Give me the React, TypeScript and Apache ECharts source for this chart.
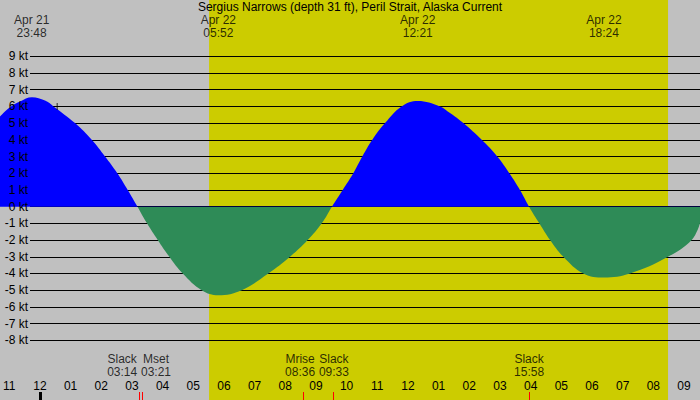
import { useEffect, useRef } from "react"
import * as echarts from "echarts"

// current speed (kt), x in hours since Apr 21 00:00
const flowHours = [
  22.772, 23.097, 23.422, 23.812, 24.235, 24.511, 25.21, 25.753, 26.185, 26.585, 26.923, 27.24,
  27.55, 27.898, 28.275, 28.71, 29.328, 29.867, 30.628, 31.492, 32.197, 32.773, 33.228, 33.56,
  33.91, 34.254, 34.547, 34.872, 35.285, 35.821, 36.35, 37.072, 37.397, 37.829, 38.427, 38.934,
  39.325, 39.672, 39.967, 40.3, 40.647, 41.08, 41.73, 42.4, 43.247, 44.482, 45.252, 45.522,
]
const flowKnots = [
  5.4, 5.95, 6.3, 6.55, 6.35, 6.0, 5, 4, 3, 2, 1, 0,
  -1, -2, -3, -4, -5, -5.3, -5, -4, -3, -2, -1, 0,
  1, 2, 3, 4, 5, 6, 6.33, 6, 5.6, 5, 4, 3,
  2, 1, 0, -1, -2, -3, -4, -4.24, -4, -3, -2, -1.0,
]

const knotMin = -8
const knotMax = 9
const hourTicks = [23, 24, 25, 26, 27, 28, 29, 30, 31, 32, 33, 34, 35, 36, 37, 38, 39, 40, 41, 42, 43, 44, 45]
const viewStart = 22.772
const viewEnd = 45.522

const sunrise = "05:34"
const sunset = "20:29"

const extremeDays = ["Apr 21", "Apr 22", "Apr 22", "Apr 22"]
const extremeClocks = ["23:48", "05:52", "12:21", "18:24"]

const eventNames = ["Slack", "Mset", "Mrise", "Slack", "Slack"]
const eventClocks = ["03:14", "03:21", "08:36", "09:33", "15:58"]

const nowMarker = [24.63, 6]

const font = "Liberation Sans"

function toHours(day: string, clock: string) {
  const [h, m] = clock.split(":").map(Number)
  return (day === "Apr 21" ? 0 : 24) + h + m / 60
}

// push apart labels that would overlap
function spreadLabels(times: number[], gap: number) {
  const out = [...times]
  for (let i = 0; i < out.length - 1; i++) {
    const d = out[i + 1] - out[i]
    if (d < gap) {
      const push = (gap - d) / 2
      out[i] -= push
      out[i + 1] += push
    }
  }
  return out
}

function hourLabel(v: number) {
  const h = Math.round(v) % 12
  return String(h === 0 ? 12 : h).padStart(2, "0")
}

const textLabel = {
  show: true,
  position: "inside",
  formatter: "{b}",
  color: "#000",
  fontSize: 12,
  fontFamily: font,
}

function labelSeries(axis: number, y: number, times: number[], texts: string[]) {
  return {
    type: "scatter",
    xAxisIndex: axis,
    yAxisIndex: axis,
    silent: true,
    z: 3,
    symbolSize: 1,
    itemStyle: { color: "transparent" },
    data: times.map((t, i) => ({ value: [t, y], name: texts[i] })),
    label: textLabel,
  }
}

export default function App() {
  const chartRef = useRef<HTMLDivElement>(null)

  useEffect(() => {
    document.body.style.margin = "0"
    if (!chartRef.current) return
    const chart = echarts.init(chartRef.current, null, { renderer: "svg" })

    const eventTimes = eventClocks.map((c) => toHours("Apr 22", c))
    const labelTimes = spreadLabels(eventTimes, 1.1)
    const extremeTimes = extremeClocks.map((c, i) => toHours(extremeDays[i], c))

    const hiddenX = (gridIndex: number) => ({
      type: "value",
      gridIndex,
      min: viewStart,
      max: viewEnd,
      show: false,
    })
    const hiddenY = (gridIndex: number) => ({
      type: "value",
      gridIndex,
      min: 0,
      max: 1,
      show: false,
    })

    const option = {
      animation: false,
      backgroundColor: "#c0c0c0",
      textStyle: { fontFamily: font },
      title: {
        text: "Sergius Narrows (depth 31 ft), Peril Strait, Alaska Current",
        left: "center",
        top: 1,
        padding: 0,
        textStyle: { fontSize: 12, fontWeight: "normal", color: "#000", fontFamily: font },
      },
      grid: [
        { left: 0, right: 0, top: 56.3, bottom: 59.7 }, // flow
        { left: 30, right: 0, top: 56.3, bottom: 59.7 }, // knot lines
        { left: 0, right: 0, top: 0, bottom: 0 }, // day / night
        { left: 0, right: 0, top: 392, height: 8 }, // hour ticks
        { left: 0, right: 0, top: 359, height: 13 }, // event labels
        { left: 0, right: 0, top: 19.5, height: 13 }, // extreme labels
        { left: 30, right: 0, top: 56.3, bottom: 59.7 }, // knot labels
      ],
      xAxis: [
        hiddenX(0),
        { type: "value", gridIndex: 1, min: 0, max: 1, show: false },
        hiddenX(2),
        {
          type: "value",
          gridIndex: 3,
          min: viewStart,
          max: viewEnd,
          position: "top",
          z: 2,
          axisLine: { show: false },
          splitLine: { show: false },
          axisTick: {
            show: true,
            inside: true,
            length: 8,
            customValues: hourTicks,
            lineStyle: { color: "#000", width: 1 },
          },
          axisLabel: {
            customValues: hourTicks,
            formatter: hourLabel,
            margin: 0,
            fontSize: 12,
            color: "#000",
            fontFamily: font,
          },
        },
        hiddenX(4),
        hiddenX(5),
        { type: "value", gridIndex: 6, min: 0, max: 1, show: false },
      ],
      yAxis: [
        { type: "value", gridIndex: 0, min: knotMin, max: knotMax, show: false },
        {
          type: "value",
          gridIndex: 1,
          min: knotMin,
          max: knotMax,
          interval: 1,
          z: 2,
          axisLine: { show: false },
          axisTick: { show: false },
          axisLabel: { show: false },
          splitLine: { show: true, lineStyle: { color: "#000", width: 1 } },
        },
        hiddenY(2),
        hiddenY(3),
        hiddenY(4),
        hiddenY(5),
        {
          type: "value",
          gridIndex: 6,
          min: knotMin,
          max: knotMax,
          interval: 1,
          z: 5,
          axisLine: { show: false },
          axisTick: { show: false },
          splitLine: { show: false },
          axisLabel: {
            formatter: (v: number) => `${v} kt`,
            margin: 2,
            fontSize: 12,
            color: "#000",
            fontFamily: font,
          },
        },
      ],
      visualMap: {
        show: false,
        type: "piecewise",
        seriesIndex: 1,
        dimension: 1,
        pieces: [
          { gt: 0, lte: knotMax, color: "#0000ff" },
          { gte: knotMin, lte: 0, color: "#2e8b57" },
        ],
      },
      series: [
        {
          type: "line",
          xAxisIndex: 2,
          yAxisIndex: 2,
          data: [[viewStart, 0]],
          showSymbol: false,
          lineStyle: { width: 0 },
          silent: true,
          z: 0,
          markArea: {
            silent: true,
            itemStyle: { color: "#cccc00" },
            data: [[{ xAxis: toHours("Apr 22", sunrise) }, { xAxis: toHours("Apr 22", sunset) }]],
          },
        },
        {
          type: "line",
          xAxisIndex: 0,
          yAxisIndex: 0,
          data: flowHours.map((h, i) => [h, flowKnots[i]]),
          smooth: 0.4,
          showSymbol: false,
          silent: true,
          z: 3,
          lineStyle: { width: 0 },
          areaStyle: { opacity: 1 },
        },
        {
          type: "scatter",
          xAxisIndex: 0,
          yAxisIndex: 0,
          data: [nowMarker],
          symbol: "path://M3,0h1v3h3v1h-3v3h-1v-3h-3v-1h3z",
          symbolSize: 7,
          itemStyle: { color: "#000" },
          silent: true,
          z: 6,
        },
        {
          type: "line",
          xAxisIndex: 3,
          yAxisIndex: 3,
          data: [[viewStart, 0]],
          showSymbol: false,
          lineStyle: { width: 0 },
          silent: true,
          z: 3,
          markLine: {
            silent: true,
            symbol: ["none", "none"],
            label: { show: false },
            data: [
              { xAxis: 24, lineStyle: { color: "#000", width: 3, type: "solid" } },
              ...eventTimes.map((t) => ({ xAxis: t, lineStyle: { color: "#ff0000", width: 1, type: "solid" } })),
            ],
          },
        },
        labelSeries(4, 1, labelTimes, eventNames),
        labelSeries(4, 0, labelTimes, eventClocks),
        labelSeries(5, 1, extremeTimes, extremeDays),
        labelSeries(5, 0, extremeTimes, extremeClocks),
      ],
    }

    chart.setOption(option as any)

    return () => {
      chart.dispose()
    }
  }, [])

  return <div ref={chartRef} style={{ width: "700px", height: "400px" }} />
}
